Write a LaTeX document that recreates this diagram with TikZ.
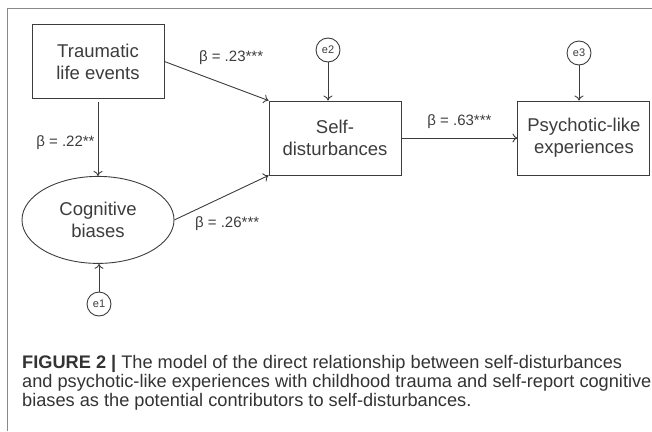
\documentclass[tikz,border=0pt]{standalone}
\usepackage{fontspec}
\setmainfont{Liberation Sans}
\usetikzlibrary{%
    arrows.meta,
    positioning,
    shapes.geometric
}
\definecolor{linegray}{HTML}{3C3C3C}
\definecolor{framegray}{HTML}{8A8A8A}
\definecolor{captext}{HTML}{333333}
\newcommand{\boxfont}{\fontsize{18.5}{22}\selectfont}
\newcommand{\betafont}{\fontsize{15}{18}\selectfont}
\newcommand{\errfont}{\fontsize{11}{13}\selectfont}
\tikzset{
    headarrow/.style = {-{To[length=5pt,width=9pt]}, draw=linegray, line width=0.9pt},
    varbox/.style = {draw=linegray, line width=0.9pt, minimum width=132pt,
        minimum height=74pt, align=center, text=linegray, font=\boxfont},
    latentvar/.style = {ellipse, draw=linegray, line width=0.9pt, minimum width=152pt,
        minimum height=87pt, inner sep=0pt, align=center, text=linegray, font=\boxfont},
    errvar/.style = {circle, draw=linegray, line width=0.9pt, minimum size=24pt,
        inner sep=0pt, text=linegray, font=\errfont},
    betalabel/.style = {text=linegray, font=\betafont, inner sep=1pt}
}

\begin{document}
\begin{tikzpicture}[x=1pt,y=-1pt]
    \useasboundingbox (0,0) rectangle (652,431);
    \draw[framegray, line width=0.8pt] (7.5,431) -- (7.5,8.5) -- (652,8.5);

    \node[varbox] (trauma) at (98,61.5) {Traumatic\\life events};
    \node[latentvar] (cogn) [below=77pt of trauma] {Cognitive\\biases};
    \node[varbox] (selfdist) at (335,138) {Self-\\disturbances};
    \node[varbox] (psychlike) [right=116pt of selfdist] {Psychotic-like\\experiences};

    \node[errvar] (e1) at (99,304) {e1};
    \node[errvar] (e2) at (328,50) {e2};
    \node[errvar] (e3) at (579,53) {e3};

    \draw[headarrow] (trauma.south) ++(0,3) coordinate (t-s) (t-s) -- (t-s |- cogn.north)
        node [betalabel, pos=0.55, left=2pt] {β = .22**};
    \draw[headarrow] (trauma.east) -- (selfdist.north west)
        node [betalabel, pos=0.64, above=20pt] {β = .23***};
    \draw[headarrow] (cogn.east) -- (selfdist.south west)
        node [betalabel, pos=0.56, below=20pt] {β = .26***};
    \draw[headarrow] (selfdist.east) -- (psychlike.west)
        node [betalabel, midway, above=8pt] {β = .63***};

    \draw[headarrow] (e1) -- (e1 |- cogn.south);
    \draw[headarrow] (e2) -- (e2 |- selfdist.north);
    \draw[headarrow] (e3) -- (e3 |- psychlike.north);

    % caption, anchored on the baseline of its last line
    \node[anchor=base west, align=left, text=captext, inner sep=0pt,
        font=\fontsize{18.2}{19}\selectfont] (caption) at (22,406)
        {\textbf{FIGURE 2 |} The model of the direct relationship between self-disturbances\\
         and psychotic-like experiences with childhood trauma and self-report cognitive\\
         biases as the potential contributors to self-disturbances.};
\end{tikzpicture}
\end{document}
